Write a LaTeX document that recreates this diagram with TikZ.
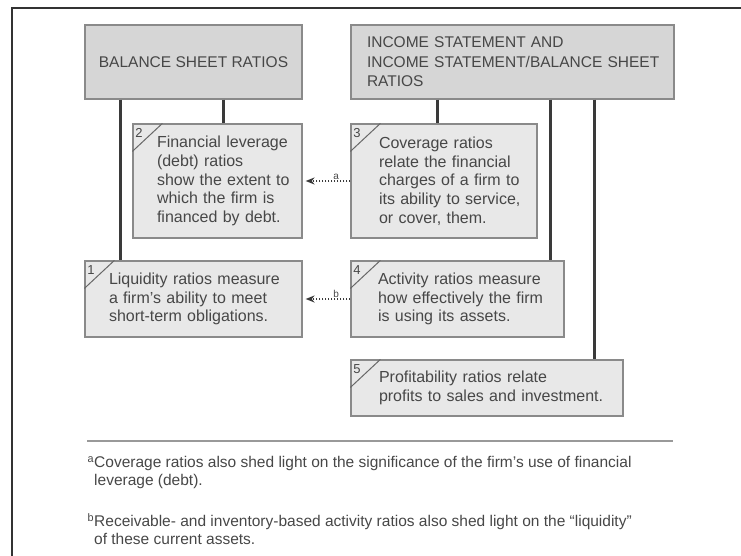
\documentclass[tikz,border=0pt]{standalone}
\usepackage{fontspec}
\setmainfont{Liberation Sans}
\usetikzlibrary{positioning, arrows.meta}
\definecolor{hdrgray}{HTML}{D6D6D6}
\definecolor{boxgray}{HTML}{E8E8E8}
\definecolor{edgegray}{HTML}{8A8A8A}
\definecolor{inkgray}{HTML}{474747}
\definecolor{linkgray}{HTML}{3A3A3A}

\begin{document}
\begin{tikzpicture}[
    x=1pt, y=-1pt, >=Stealth,
    hdr/.style={rectangle, draw=edgegray, fill=hdrgray, line width=1.2pt, minimum height=74pt, inner sep=0pt, text=inkgray, font=\fontsize{15.5}{19.5}\selectfont},
    rbox/.style={rectangle, draw=edgegray, fill=boxgray, line width=1.2pt, inner xsep=4pt, inner ysep=0pt, align=left, text=inkgray, font=\fontsize{16}{18.7}\selectfont},
    pad/.style={execute at begin node={\leftskip=#1\relax}},
    numtag/.style={inner sep=0pt, text=inkgray, font=\fontsize{13}{15}\selectfont},
    corner/.style={draw=edgegray!75!black, line width=1pt},
    link/.style={draw=linkgray, line width=2.4pt},
    hint/.style={draw=linkgray, line width=1.8pt, dash pattern=on 1.6pt off 1.4pt, -{Stealth[length=9pt,width=7pt]}, shorten >=3pt},
    hintlbl/.style={inner sep=1pt, text=inkgray, font=\fontsize{10}{11}\selectfont},
    note/.style={inner sep=0pt, align=left, text=inkgray, font=\fontsize{15.5}{18}\selectfont},
  ]
  \useasboundingbox (0,0) rectangle (741,556);
  \draw[line width=1.4pt, draw=black!80] (741,8) -- (12,8) -- (12,556);

  % headers
  \node[hdr, minimum width=217pt] (bsr) at (193.5,62) {BALANCE SHEET RATIOS};
  \node[hdr, inner xsep=4pt, text width=315pt, align=left, pad=12pt] (inc) at (512.5,62)
    {INCOME STATEMENT AND\\INCOME STATEMENT/BALANCE SHEET\\RATIOS};

  % ratio boxes
  \node[rbox, text width=161pt, minimum height=114pt, pad=20pt] (lev) at (217.5,181)
    {Financial leverage\\(debt) ratios\\show the extent to\\which the firm is\\financed by debt.};
  \node[rbox, text width=178pt, minimum height=114pt, pad=24pt] (cov) at (444,181)
    {Coverage ratios\\relate the financial\\charges of a firm to\\its ability to service,\\or cover, them.};
  \node[rbox, text width=209pt, minimum height=76pt, pad=20pt] (liq) at (193.5,299)
    {Liquidity ratios measure\\a firm's ability to meet\\short-term obligations.};
  \node[rbox, text width=205pt, minimum height=76pt, pad=23pt] (act) at (457.5,299)
    {Activity ratios measure\\how effectively the firm\\is using its assets.};
  \node[rbox, text width=264pt, minimum height=56pt, pad=24pt] (prof) at (487,388)
    {Profitability ratios relate\\profits to sales and investment.};

  % numbered corners
  \foreach \b/\n in {liq/1, lev/2, cov/3, act/4, prof/5}{
    \draw[corner] ([yshift=-28pt]\b.north west) -- ([xshift=30pt]\b.north west);
    \node[numtag] (tag\n) at ([xshift=6.5pt,yshift=-10pt]\b.north west) {\n};
  }

  % links from the headers
  \draw[link] ([xshift=36pt]liq.north west |- bsr.south) -- ([xshift=36pt]liq.north west);
  \draw[link] ([xshift=91pt]lev.north west |- bsr.south) -- ([xshift=91pt]lev.north west);
  \draw[link] ([xshift=87pt]cov.north west |- inc.south) -- ([xshift=87pt]cov.north west);
  \draw[link] ([xshift=-14pt]act.north east |- inc.south) -- ([xshift=-14pt]act.north east);
  \draw[link] ([xshift=-29pt]prof.north east |- inc.south) -- ([xshift=-29pt]prof.north east);

  % cross references
  \draw[hint] (cov.west) -- node[hintlbl, above, pos=0.3] (hinta) {a} (lev.east);
  \draw[hint] (act.west) -- node[hintlbl, above, pos=0.3] (hintb) {b} (liq.east);

  % footnotes
  \draw[draw=black!40, line width=1.6pt] (87,441) -- (673,441);
  \node[note, anchor=north west] (fna) at (94,456)
    {\llap{\textsuperscript{a}}Coverage ratios also shed light on the significance of the firm's use of financial\\leverage (debt).};
  \node[note, anchor=north west] (fnb) at (94,513)
    {\llap{\textsuperscript{b}}Receivable- and inventory-based activity ratios also shed light on the ``liquidity''\\of these current assets.};
\end{tikzpicture}
\end{document}
